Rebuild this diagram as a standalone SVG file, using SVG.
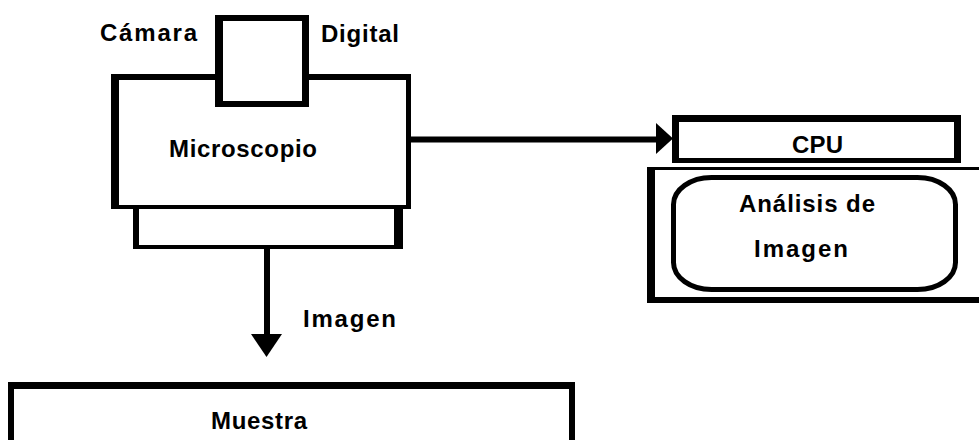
<svg xmlns="http://www.w3.org/2000/svg" width="979" height="440" viewBox="0 0 979 440">
<style>
  .frame { fill: #000; fill-rule: evenodd; }
  .fill { fill: #fff; }
  .lbl { font-family: "Liberation Sans", Arial, sans-serif; font-weight: bold; font-size: 24px; fill: #000; }
  .conn { stroke: #000; stroke-width: 6; fill: none; }
  .head { fill: #000; }
</style>
<rect x="0" y="0" width="979" height="440" fill="#fff"/>

<g id="microscopio">
  <rect class="fill" x="111" y="74" width="300" height="135"/>
  <path class="frame" d="M111,74 H411 V209 H111 Z M119,80 V205 H406 V80 Z"/>
  <text class="lbl" x="169" y="157" textLength="148" lengthAdjust="spacing">Microscopio</text>
</g>

<g id="platina">
  <path class="frame" d="M133,205 H403 V249 H133 Z M139,209 V245 H394 V209 Z"/>
</g>

<g id="camara">
  <rect class="fill" x="215" y="15" width="94" height="92"/>
  <path class="frame" d="M215,15 H309 V107 H215 Z M223,21 V101 H302 V21 Z"/>
  <text class="lbl" x="100" y="41" textLength="97" lengthAdjust="spacing">Cámara</text>
  <text class="lbl" x="321" y="42" textLength="78" lengthAdjust="spacing">Digital</text>
</g>

<g id="cpu">
  <path class="frame" d="M672,115 H961 V163 H672 Z M679,122 V158 H954 V122 Z"/>
  <text class="lbl" x="792" y="153" textLength="51" lengthAdjust="spacing">CPU</text>
</g>

<g id="analisis">
  <path class="frame" d="M647,167 H1000 V303 H647 Z M655,170 V297 H1000 V170 Z"/>
  <rect x="673.5" y="177.5" width="282" height="112" rx="38" ry="27" fill="none" stroke="#000" stroke-width="5"/>
  <text class="lbl" x="739" y="212" textLength="136" lengthAdjust="spacing">Análisis de</text>
  <text class="lbl" x="754" y="257" textLength="94" lengthAdjust="spacing">Imagen</text>
</g>

<g id="muestra">
  <path class="frame" d="M8,382 H575 V460 H8 Z M14,389 V460 H569 V389 Z"/>
  <text class="lbl" x="211" y="429" textLength="96" lengthAdjust="spacing">Muestra</text>
</g>

<g id="connectors">
  <line class="conn" x1="411" y1="139.5" x2="657" y2="139.5"/>
  <polygon class="head" points="656,123 673,138.5 656,154"/>
  <line class="conn" x1="267" y1="249" x2="267" y2="335"/>
  <polygon class="head" points="251,334 282,334 266.5,357"/>
  <text class="lbl" x="303" y="327" textLength="93" lengthAdjust="spacing">Imagen</text>
</g>
</svg>
